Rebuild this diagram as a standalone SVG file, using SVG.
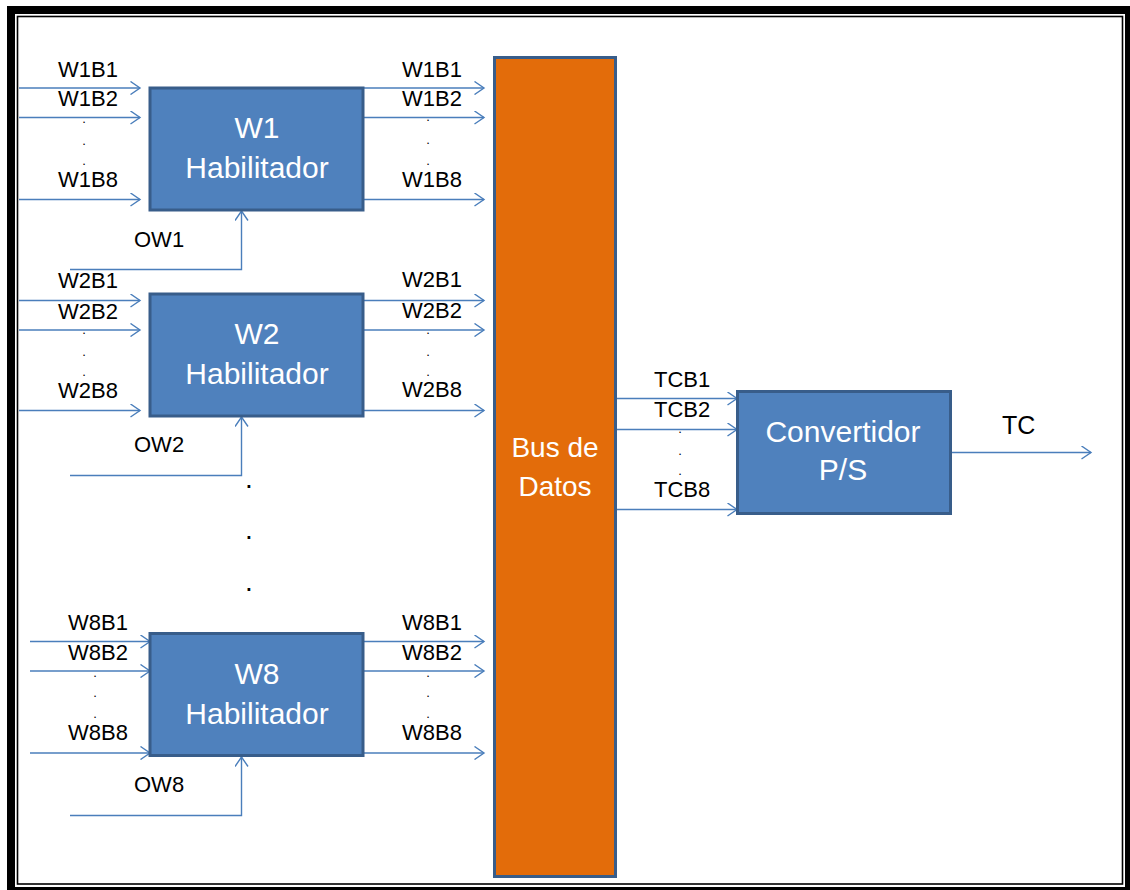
<svg xmlns="http://www.w3.org/2000/svg" width="1130" height="890" viewBox="0 0 1130 890">
<style>
.lbl{font-family:"Liberation Sans",Arial,sans-serif;font-size:22px;fill:#000}
.dot{font-family:"Liberation Sans",Arial,sans-serif;font-size:13px;fill:#000;text-anchor:middle}
.bt{font-family:"Liberation Sans",Arial,sans-serif;font-size:30px;fill:#fff;text-anchor:middle}
.box{fill:#4f81bd;stroke:#385d8a;stroke-width:3}
.bus{fill:#e36c0a;stroke:#385d8a;stroke-width:3}
.ln{fill:none;stroke:#4a7ebb;stroke-width:1.4}
</style>
<defs>
<marker id="ah" markerUnits="userSpaceOnUse" markerWidth="12" markerHeight="14" refX="10" refY="7" orient="auto">
<path d="M0.5,0.5 L10,7 L0.5,13.5" fill="none" stroke="#4a7ebb" stroke-width="1.4"/>
</marker>
</defs>
<g id="frame">
<rect x="7" y="6" width="1123" height="884" fill="#000"/>
<rect x="15" y="14" width="1110" height="873" fill="#fff"/>
<rect x="17.5" y="16.5" width="1105" height="867.5" fill="#fff" stroke="#000" stroke-width="1.6"/>
</g>
<g id="connectors">
<path class="ln" marker-end="url(#ah)" d="M19,88 H140"/>
<path class="ln" marker-end="url(#ah)" d="M19,117.5 H140"/>
<path class="ln" marker-end="url(#ah)" d="M19,199.5 H140"/>
<path class="ln" marker-end="url(#ah)" d="M364,88 H484"/>
<path class="ln" marker-end="url(#ah)" d="M364,117.5 H484"/>
<path class="ln" marker-end="url(#ah)" d="M364,199.5 H484"/>
<path class="ln" marker-end="url(#ah)" d="M70,269.5 H241.5 V211"/>
<path class="ln" marker-end="url(#ah)" d="M19,300.5 H140"/>
<path class="ln" marker-end="url(#ah)" d="M19,330 H140"/>
<path class="ln" marker-end="url(#ah)" d="M19,410.5 H140"/>
<path class="ln" marker-end="url(#ah)" d="M364,300.5 H484"/>
<path class="ln" marker-end="url(#ah)" d="M364,330 H484"/>
<path class="ln" marker-end="url(#ah)" d="M364,410.5 H484"/>
<path class="ln" marker-end="url(#ah)" d="M70,475.5 H241.5 V417"/>
<path class="ln" marker-end="url(#ah)" d="M30,641.5 H150"/>
<path class="ln" marker-end="url(#ah)" d="M30,671 H150"/>
<path class="ln" marker-end="url(#ah)" d="M30,753 H150"/>
<path class="ln" marker-end="url(#ah)" d="M364,641.5 H484"/>
<path class="ln" marker-end="url(#ah)" d="M364,671 H484"/>
<path class="ln" marker-end="url(#ah)" d="M364,753 H484"/>
<path class="ln" marker-end="url(#ah)" d="M70,815.5 H241.5 V757"/>
<path class="ln" marker-end="url(#ah)" d="M617,398.5 H737"/>
<path class="ln" marker-end="url(#ah)" d="M617,429.5 H737"/>
<path class="ln" marker-end="url(#ah)" d="M617,509.5 H737"/>
<path class="ln" marker-end="url(#ah)" d="M951,452.5 H1091"/>
</g>
<g id="w1">
<rect class="box" x="150" y="88" width="213" height="122"/>
<text class="bt" x="257" y="138">W1</text>
<text class="bt" x="257" y="178">Habilitador</text>
</g>
<g id="w2">
<rect class="box" x="150" y="294" width="213" height="122"/>
<text class="bt" x="257" y="343.5">W2</text>
<text class="bt" x="257" y="383.5">Habilitador</text>
</g>
<g id="w8">
<rect class="box" x="150" y="633.5" width="213" height="122"/>
<text class="bt" x="257" y="683.5">W8</text>
<text class="bt" x="257" y="723.5">Habilitador</text>
</g>
<g id="bus">
<rect class="bus" x="494.5" y="57.5" width="121" height="819"/>
<text class="bt" x="555" y="457" style="font-size:28px">Bus de</text>
<text class="bt" x="555" y="496" style="font-size:28px">Datos</text>
</g>
<g id="conv">
<rect class="box" x="737.5" y="391.5" width="213" height="122"/>
<text class="bt" x="843" y="441.5">Convertidor</text>
<text class="bt" x="843" y="479.5">P/S</text>
</g>
<g id="labels">
<text class="lbl" x="58" y="77">W1B1</text>
<text class="lbl" x="58" y="106">W1B2</text>
<text class="dot" x="84" y="123">.</text>
<text class="dot" x="84" y="145">.</text>
<text class="dot" x="84" y="165">.</text>
<text class="lbl" x="58" y="187">W1B8</text>
<text class="lbl" x="402" y="76.5">W1B1</text>
<text class="lbl" x="402" y="106">W1B2</text>
<text class="dot" x="428" y="121">.</text>
<text class="dot" x="428" y="143.5">.</text>
<text class="dot" x="428" y="164.5">.</text>
<text class="lbl" x="402" y="187">W1B8</text>
<text class="lbl" x="134" y="247">OW1</text>
<text class="lbl" x="58" y="287.5">W2B1</text>
<text class="lbl" x="58" y="318.5">W2B2</text>
<text class="dot" x="84" y="334">.</text>
<text class="dot" x="84" y="355.5">.</text>
<text class="dot" x="84" y="375.5">.</text>
<text class="lbl" x="58" y="397.5">W2B8</text>
<text class="lbl" x="402" y="287">W2B1</text>
<text class="lbl" x="402" y="317.5">W2B2</text>
<text class="dot" x="428" y="334">.</text>
<text class="dot" x="428" y="355.5">.</text>
<text class="dot" x="428" y="375.5">.</text>
<text class="lbl" x="402" y="397">W2B8</text>
<text class="lbl" x="134" y="452">OW2</text>
<text class="dot" x="249" y="488" style="font-size:28px">.</text>
<text class="dot" x="249" y="538.5" style="font-size:28px">.</text>
<text class="dot" x="249" y="591" style="font-size:28px">.</text>
<text class="lbl" x="68" y="630">W8B1</text>
<text class="lbl" x="68" y="660">W8B2</text>
<text class="dot" x="95" y="677">.</text>
<text class="dot" x="95" y="697">.</text>
<text class="dot" x="95" y="717.5">.</text>
<text class="lbl" x="68" y="740">W8B8</text>
<text class="lbl" x="402" y="630">W8B1</text>
<text class="lbl" x="402" y="660">W8B2</text>
<text class="dot" x="428" y="677">.</text>
<text class="dot" x="428" y="697">.</text>
<text class="dot" x="428" y="717.5">.</text>
<text class="lbl" x="402" y="740">W8B8</text>
<text class="lbl" x="134" y="792">OW8</text>
<text class="lbl" x="654" y="386.5">TCB1</text>
<text class="lbl" x="654" y="417">TCB2</text>
<text class="dot" x="680" y="432.5">.</text>
<text class="dot" x="680" y="455">.</text>
<text class="dot" x="680" y="475">.</text>
<text class="lbl" x="654" y="497">TCB8</text>
<text class="lbl" x="1002" y="433.5" style="font-size:25px">TC</text>
</g>
</svg>
